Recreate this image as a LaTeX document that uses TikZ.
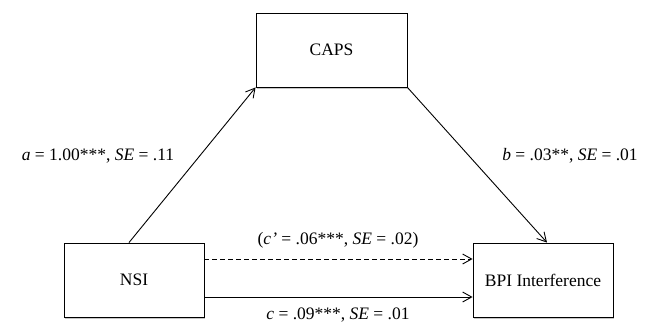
\documentclass[tikz,border=0pt]{standalone}
\usepackage{fontspec}
\setmainfont{Liberation Serif}
\usetikzlibrary{arrows.meta}
\begin{document}
\begin{tikzpicture}[x=1pt,y=-1pt,
  box/.style={draw=black,line width=0.9pt,fill=white,minimum width=140pt,minimum height=74pt,inner sep=0pt,font=\fontsize{17.5}{20}\selectfont},
  shadowbox/.style={fill=gray!45,minimum width=140pt,minimum height=74pt,inner sep=0pt},
  conn/.style={line width=0.9pt,-{Straight Barb[length=9pt,width=10pt,line width=0.9pt]}},
  lbl/.style={font=\fontsize{17.5}{20}\selectfont,inner sep=0pt}]
\useasboundingbox (0,0) rectangle (658,325);
% shadows
\node[shadowbox,minimum width=151pt] (capsS) at (332.5,51.5) {};
\node[shadowbox] (nsiS) at (135,281.5) {};
\node[shadowbox] (bpiS) at (544,281.5) {};
% boxes
\node[box,minimum width=151pt] (caps) at (331.5,50) {CAPS};
\node[box] (nsi) at (134,280) {NSI};
\node[box] (bpi) at (543,280) {BPI Interference};
% connectors
\draw[conn] ([xshift=-5pt]nsi.north) -- (caps.south west);
\draw[conn] (caps.south east) -- ([xshift=4pt]bpi.north);
\draw[conn,dash pattern=on 5pt off 3pt] ([yshift=21pt]nsi.east) -- ([yshift=21pt]bpi.west);
\draw[conn] ([yshift=-17pt]nsi.east) -- ([yshift=-17pt]bpi.west);
% labels
\node[lbl] (la) at (98,156) {\textit{a} = 1.00***, \textit{SE} = .11};
\node[lbl] (lb) at (570,156) {\textit{b} = .03**, \textit{SE} = .01};
\node[lbl] (lc1) at (338,240) {(\textit{c’} = .06***, \textit{SE} = .02)};
\node[lbl] (lc) at (338,315) {\textit{c} = .09***, \textit{SE} = .01};
\end{tikzpicture}
\end{document}
